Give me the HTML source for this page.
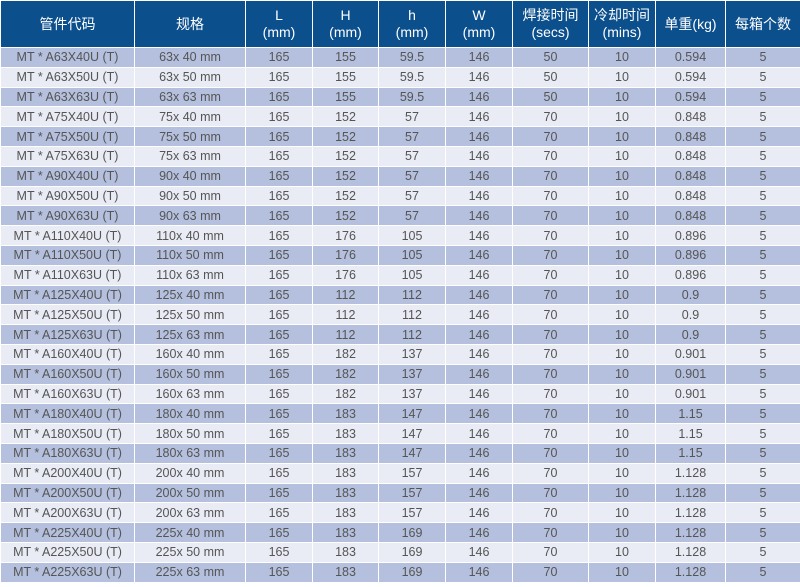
<!DOCTYPE html>
<html><head><meta charset="utf-8"><style>
html,body{margin:0;padding:0;background:#fff;width:800px;height:587px;overflow:hidden}
table{border-collapse:collapse;table-layout:fixed;width:800px;font-family:"Liberation Sans Narrow","Liberation Sans","Noto Sans CJK SC",sans-serif}
td,th{border:1px solid #fff;text-align:center;padding:0;overflow:hidden;white-space:nowrap}
th{background:#0b4f8d;color:#fff;font-weight:normal;font-size:14px;line-height:17px;height:46px;font-family:"Liberation Sans","Noto Sans CJK SC",sans-serif}
td{height:18.8px;font-size:12.5px;color:#555;line-height:18px}
tr.o td{background:#b4c0dd}
tr.e td{background:#e9ecf5}
</style></head><body>
<table>
<colgroup><col style="width:134px"><col style="width:111px"><col style="width:67px"><col style="width:66px"><col style="width:67px"><col style="width:67px"><col style="width:76px"><col style="width:67px"><col style="width:70px"><col style="width:75px"></colgroup>
<tr><th>管件代码</th><th>规格</th><th>L<br>(mm)</th><th>H<br>(mm)</th><th>h<br>(mm)</th><th>W<br>(mm)</th><th>焊接时间<br>(secs)</th><th>冷却时间<br>(mins)</th><th>单重(kg)</th><th>每箱个数</th></tr>
<tr class="o"><td>MT * A63X40U (T)</td><td>63x 40 mm</td><td>165</td><td>155</td><td>59.5</td><td>146</td><td>50</td><td>10</td><td>0.594</td><td>5</td></tr>
<tr class="e"><td>MT * A63X50U (T)</td><td>63x 50 mm</td><td>165</td><td>155</td><td>59.5</td><td>146</td><td>50</td><td>10</td><td>0.594</td><td>5</td></tr>
<tr class="o"><td>MT * A63X63U (T)</td><td>63x 63 mm</td><td>165</td><td>155</td><td>59.5</td><td>146</td><td>50</td><td>10</td><td>0.594</td><td>5</td></tr>
<tr class="e"><td>MT * A75X40U (T)</td><td>75x 40 mm</td><td>165</td><td>152</td><td>57</td><td>146</td><td>70</td><td>10</td><td>0.848</td><td>5</td></tr>
<tr class="o"><td>MT * A75X50U (T)</td><td>75x 50 mm</td><td>165</td><td>152</td><td>57</td><td>146</td><td>70</td><td>10</td><td>0.848</td><td>5</td></tr>
<tr class="e"><td>MT * A75X63U (T)</td><td>75x 63 mm</td><td>165</td><td>152</td><td>57</td><td>146</td><td>70</td><td>10</td><td>0.848</td><td>5</td></tr>
<tr class="o"><td>MT * A90X40U (T)</td><td>90x 40 mm</td><td>165</td><td>152</td><td>57</td><td>146</td><td>70</td><td>10</td><td>0.848</td><td>5</td></tr>
<tr class="e"><td>MT * A90X50U (T)</td><td>90x 50 mm</td><td>165</td><td>152</td><td>57</td><td>146</td><td>70</td><td>10</td><td>0.848</td><td>5</td></tr>
<tr class="o"><td>MT * A90X63U (T)</td><td>90x 63 mm</td><td>165</td><td>152</td><td>57</td><td>146</td><td>70</td><td>10</td><td>0.848</td><td>5</td></tr>
<tr class="e"><td>MT * A110X40U (T)</td><td>110x 40 mm</td><td>165</td><td>176</td><td>105</td><td>146</td><td>70</td><td>10</td><td>0.896</td><td>5</td></tr>
<tr class="o"><td>MT * A110X50U (T)</td><td>110x 50 mm</td><td>165</td><td>176</td><td>105</td><td>146</td><td>70</td><td>10</td><td>0.896</td><td>5</td></tr>
<tr class="e"><td>MT * A110X63U (T)</td><td>110x 63 mm</td><td>165</td><td>176</td><td>105</td><td>146</td><td>70</td><td>10</td><td>0.896</td><td>5</td></tr>
<tr class="o"><td>MT * A125X40U (T)</td><td>125x 40 mm</td><td>165</td><td>112</td><td>112</td><td>146</td><td>70</td><td>10</td><td>0.9</td><td>5</td></tr>
<tr class="e"><td>MT * A125X50U (T)</td><td>125x 50 mm</td><td>165</td><td>112</td><td>112</td><td>146</td><td>70</td><td>10</td><td>0.9</td><td>5</td></tr>
<tr class="o"><td>MT * A125X63U (T)</td><td>125x 63 mm</td><td>165</td><td>112</td><td>112</td><td>146</td><td>70</td><td>10</td><td>0.9</td><td>5</td></tr>
<tr class="e"><td>MT * A160X40U (T)</td><td>160x 40 mm</td><td>165</td><td>182</td><td>137</td><td>146</td><td>70</td><td>10</td><td>0.901</td><td>5</td></tr>
<tr class="o"><td>MT * A160X50U (T)</td><td>160x 50 mm</td><td>165</td><td>182</td><td>137</td><td>146</td><td>70</td><td>10</td><td>0.901</td><td>5</td></tr>
<tr class="e"><td>MT * A160X63U (T)</td><td>160x 63 mm</td><td>165</td><td>182</td><td>137</td><td>146</td><td>70</td><td>10</td><td>0.901</td><td>5</td></tr>
<tr class="o"><td>MT * A180X40U (T)</td><td>180x 40 mm</td><td>165</td><td>183</td><td>147</td><td>146</td><td>70</td><td>10</td><td>1.15</td><td>5</td></tr>
<tr class="e"><td>MT * A180X50U (T)</td><td>180x 50 mm</td><td>165</td><td>183</td><td>147</td><td>146</td><td>70</td><td>10</td><td>1.15</td><td>5</td></tr>
<tr class="o"><td>MT * A180X63U (T)</td><td>180x 63 mm</td><td>165</td><td>183</td><td>147</td><td>146</td><td>70</td><td>10</td><td>1.15</td><td>5</td></tr>
<tr class="e"><td>MT * A200X40U (T)</td><td>200x 40 mm</td><td>165</td><td>183</td><td>157</td><td>146</td><td>70</td><td>10</td><td>1.128</td><td>5</td></tr>
<tr class="o"><td>MT * A200X50U (T)</td><td>200x 50 mm</td><td>165</td><td>183</td><td>157</td><td>146</td><td>70</td><td>10</td><td>1.128</td><td>5</td></tr>
<tr class="e"><td>MT * A200X63U (T)</td><td>200x 63 mm</td><td>165</td><td>183</td><td>157</td><td>146</td><td>70</td><td>10</td><td>1.128</td><td>5</td></tr>
<tr class="o"><td>MT * A225X40U (T)</td><td>225x 40 mm</td><td>165</td><td>183</td><td>169</td><td>146</td><td>70</td><td>10</td><td>1.128</td><td>5</td></tr>
<tr class="e"><td>MT * A225X50U (T)</td><td>225x 50 mm</td><td>165</td><td>183</td><td>169</td><td>146</td><td>70</td><td>10</td><td>1.128</td><td>5</td></tr>
<tr class="o"><td>MT * A225X63U (T)</td><td>225x 63 mm</td><td>165</td><td>183</td><td>169</td><td>146</td><td>70</td><td>10</td><td>1.128</td><td>5</td></tr>
</table>
</body></html>
